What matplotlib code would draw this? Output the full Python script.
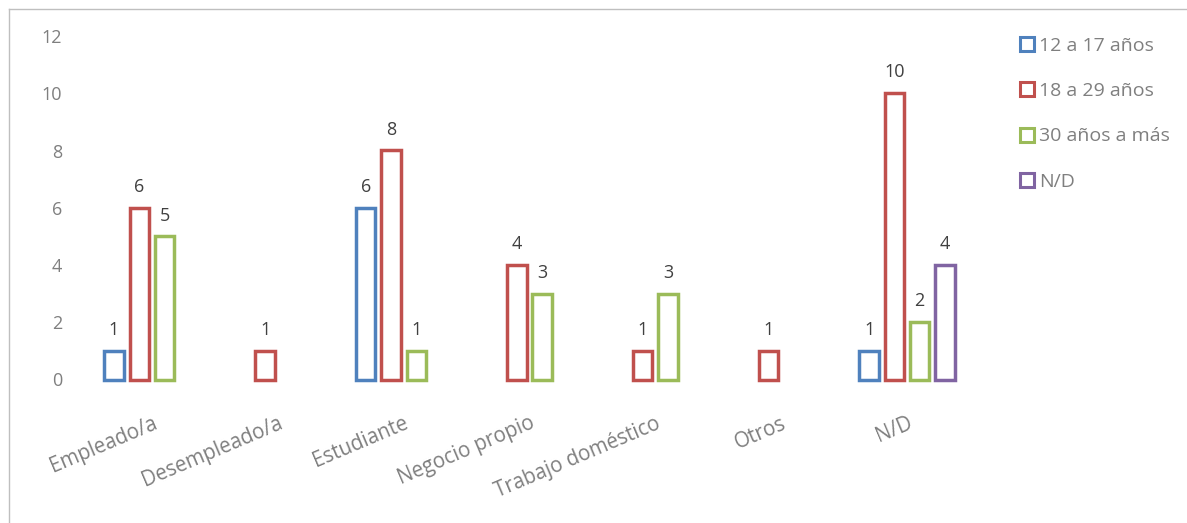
import matplotlib
matplotlib.use("Agg")
import matplotlib.pyplot as plt
from matplotlib.patches import Rectangle
from matplotlib.lines import Line2D
import numpy as np

categories = ["Empleado/a", "Desempleado/a", "Estudiante", "Negocio propio",
              "Trabajo doméstico", "Otros", "N/D"]
series_names = ["12 a 17 años", "18 a 29 años", "30 años a más", "N/D"]
s_12_17 = [1, 0, 6, 0, 0, 0, 1]
s_18_29 = [6, 1, 8, 4, 1, 1, 10]
s_30_mas = [5, 0, 1, 3, 3, 0, 2]
s_nd = [0, 0, 0, 0, 0, 0, 4]
series_values = [s_12_17, s_18_29, s_30_mas, s_nd]
colors = ["#4F81BD", "#C0504D", "#9BBB59", "#8064A2"]
yticks = [0, 2, 4, 6, 8, 10, 12]

plt.rcParams['font.family'] = ['Open Sans', 'DejaVu Sans']

W, H = 1187, 523
fig = plt.figure(figsize=(W / 100, H / 100), dpi=100)
ax = fig.add_axes([89 / W, 1 - 379.5 / H, (970 - 89) / W, (379.5 - 36) / H])

x = np.arange(len(categories))
pitch = 0.201
width = 0.155
for i, (vals, col) in enumerate(zip(series_values, colors)):
    offs = (i - 1.5) * pitch
    for xi, v in zip(x, vals):
        if v == 0:
            continue
        ax.bar(xi + offs, v, width=width, facecolor="white", edgecolor=col,
               linewidth=2.5, clip_on=False)
        ax.annotate(str(v), (xi + offs, v), xytext=(0, 8.5), textcoords="offset points",
                    ha="center", va="bottom", fontsize=13, color="#404040")

ax.set_xlim(-0.5, len(categories) - 0.5)
ax.set_ylim(0, 12)
ax.set_yticks(yticks)
ax.set_yticklabels([str(t) for t in yticks])
ax.set_xticks(x)
ax.set_xticklabels(categories, rotation=23, ha="right", rotation_mode="anchor")
for s in ax.spines.values():
    s.set_visible(False)
ax.tick_params(axis="both", length=0, labelcolor="#7F7F7F", labelsize=13)
ax.tick_params(axis="x", labelsize=14.8)
ax.tick_params(axis="y", pad=19.5)
ax.tick_params(axis="x", pad=24)

handles = [Rectangle((0, 0), 1, 1, facecolor="white", edgecolor=c, linewidth=2.2)
           for c in colors]
leg = fig.legend(handles, series_names, loc="upper left",
                 bbox_to_anchor=(1020 / W, 1 - 37 / H), frameon=False,
                 borderpad=0, borderaxespad=0, labelspacing=1.40,
                 handlelength=0.72, handleheight=0.72, handletextpad=0.25,
                 fontsize=14)
for t in leg.get_texts():
    t.set_color("#7F7F7F")

# chart area border (left and top)
fig.add_artist(Line2D([9 / W, 9 / W], [0, 1 - 9 / H], transform=fig.transFigure,
                      color="#BFBFBF", linewidth=1))
fig.add_artist(Line2D([9 / W, 1], [1 - 9 / H, 1 - 9 / H], transform=fig.transFigure,
                      color="#BFBFBF", linewidth=1))

fig.savefig("out.png", dpi=100, facecolor="white")
